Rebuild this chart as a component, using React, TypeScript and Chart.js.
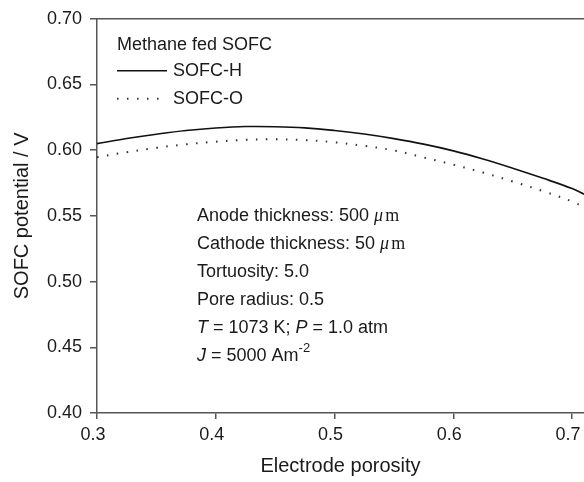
import React, { useEffect, useRef } from "react";
import { Chart, registerables } from "chart.js";

Chart.register(...registerables);

// ---- data ----
const porosity = [0.3, 0.325, 0.35, 0.375, 0.4, 0.425, 0.45, 0.475, 0.5, 0.525, 0.55, 0.575, 0.6, 0.625, 0.65, 0.675, 0.7, 0.71];
const sofcH = [0.605, 0.6089, 0.6122, 0.615, 0.6169, 0.618, 0.6179, 0.617, 0.615, 0.6123, 0.6088, 0.6046, 0.5995, 0.5933, 0.5863, 0.5788, 0.5708, 0.5665];
const sofcO = [0.5947, 0.5985, 0.6018, 0.6045, 0.6065, 0.6079, 0.6083, 0.6077, 0.606, 0.6033, 0.5998, 0.5945, 0.589, 0.583, 0.5762, 0.569, 0.561, 0.5565];
const xTicks = [0.3, 0.4, 0.5, 0.6, 0.7];
const yTicks = [0.4, 0.45, 0.5, 0.55, 0.6, 0.65, 0.7];
const seriesLabels = ["SOFC-H", "SOFC-O"];
const legendTitle = "Methane fed SOFC";

const SANS = 'Arial, "Liberation Sans", sans-serif';
const SERIF = '"Times New Roman", "Liberation Serif", serif';
const TEXT = "#1a1a1a";
const AXIS = "#555555";

type Seg = { t: string; font: string; dy?: number; gap?: number };
const F = `18px ${SANS}`;
const FI = `italic 18px ${SANS}`;
const MU = `italic 18px ${SERIF}`;
const M = `18px ${SERIF}`;
const annotations: Seg[][] = [
  [{ t: "Anode thickness: 500 ", font: F }, { t: "\u03bc", font: MU, gap: 2 }, { t: "m", font: M }],
  [{ t: "Cathode thickness: 50 ", font: F }, { t: "\u03bc", font: MU, gap: 2 }, { t: "m", font: M }],
  [{ t: "Tortuosity: 5.0", font: F }],
  [{ t: "Pore radius: 0.5", font: F }],
  [{ t: "T", font: FI }, { t: " = 1073 K; ", font: F }, { t: "P", font: FI }, { t: " = 1.0 atm", font: F }],
  [{ t: "J", font: FI }, { t: " = 5000 Am", font: F }, { t: "-2", font: `13px ${SANS}`, dy: -7 }],
];

function drawRich(ctx: CanvasRenderingContext2D, x: number, y: number, segs: Seg[]) {
  let cx = x;
  for (const s of segs) {
    ctx.font = s.font;
    ctx.fillText(s.t, cx, y + (s.dy || 0));
    cx += ctx.measureText(s.t).width + (s.gap || 0);
  }
}

const decor = {
  id: "decor",
  afterDraw(chart: any) {
    const ctx: CanvasRenderingContext2D = chart.ctx;
    const a = chart.chartArea;
    ctx.save();
    // top frame line
    ctx.strokeStyle = AXIS;
    ctx.lineWidth = 1.5;
    ctx.beginPath();
    ctx.moveTo(a.left, a.top);
    ctx.lineTo(a.right, a.top);
    ctx.stroke();

    // legend
    ctx.fillStyle = TEXT;
    ctx.textBaseline = "middle";
    ctx.textAlign = "left";
    ctx.font = `18px ${SANS}`;
    const lx = a.left + 20;
    ctx.fillText(legendTitle, lx, a.top + 26);
    chart.data.datasets.forEach((ds: any, i: number) => {
      const y = a.top + 52 + i * 28;
      ctx.save();
      ctx.strokeStyle = ds.borderColor;
      ctx.lineWidth = ds.borderWidth;
      ctx.setLineDash(ds.borderDash || []);
      ctx.lineCap = ds.borderCapStyle || "butt";
      ctx.beginPath();
      ctx.moveTo(lx, y);
      ctx.lineTo(lx + 50, y);
      ctx.stroke();
      ctx.restore();
      ctx.fillStyle = TEXT;
      ctx.font = `18px ${SANS}`;
      ctx.fillText(ds.label, lx + 56, y);
    });

    // annotation block
    annotations.forEach((segs, i) => {
      drawRich(ctx, a.left + 100, a.top + 197 + i * 28, segs);
    });
    ctx.restore();
  },
};

export default function App() {
  const ref = useRef<HTMLCanvasElement | null>(null);
  useEffect(() => {
    if (!ref.current) return;
    const chart = new Chart(ref.current, {
      type: "line",
      data: {
        datasets: [
          {
            label: seriesLabels[0],
            data: porosity.map((x, i) => ({ x, y: sofcH[i] })),
            borderColor: "#111111",
            borderWidth: 1.6,
            pointRadius: 0,
            tension: 0.4,
            fill: false,
          },
          {
            label: seriesLabels[1],
            data: porosity.map((x, i) => ({ x, y: sofcO[i] })),
            borderColor: "#333333",
            borderWidth: 2,
            borderDash: [1.5, 8.5],
            pointRadius: 0,
            tension: 0.4,
            fill: false,
          },
        ],
      },
      plugins: [decor],
      options: {
        animation: false,
        responsive: false,
        devicePixelRatio: 1,
        layout: { padding: { top: 16, right: 0, left: 0, bottom: 0 } },
        plugins: { legend: { display: false }, tooltip: { enabled: false } },
        scales: {
          x: {
            type: "linear",
            min: 0.3,
            max: 0.71,
            afterBuildTicks: (s: any) => {
              s.ticks = xTicks.map((v) => ({ value: v }));
            },
            afterFit: (s: any) => {
              s.height = 69;
              s.paddingRight = 0;
            },
            ticks: {
              font: { family: SANS, size: 18 },
              color: TEXT,
              padding: 5,
              labelOffset: -4,
              maxRotation: 0,
              autoSkip: false,
              callback: (v: any) => Number(v).toFixed(1),
            },
            grid: { drawOnChartArea: false, drawTicks: true, tickLength: 6, color: AXIS, lineWidth: 1.5 },
            border: { display: true, color: AXIS, width: 1.5 },
            title: {
              display: true,
              text: "Electrode porosity",
              font: { family: SANS, size: 20 },
              color: TEXT,
              padding: { top: 0, bottom: 4 },
            },
          },
          y: {
            type: "linear",
            min: 0.4,
            max: 0.7,
            afterBuildTicks: (s: any) => {
              s.ticks = yTicks.map((v) => ({ value: v }));
            },
            afterFit: (s: any) => {
              s.width = 97;
            },
            ticks: {
              font: { family: SANS, size: 18 },
              color: TEXT,
              padding: 8,
              autoSkip: false,
              callback: (v: any) => Number(v).toFixed(2),
            },
            grid: { drawOnChartArea: false, drawTicks: true, tickLength: 7, color: AXIS, lineWidth: 1.5 },
            border: { display: true, color: AXIS, width: 1.5 },
            title: {
              display: true,
              text: "SOFC potential / V",
              font: { family: SANS, size: 20 },
              color: TEXT,
              padding: { top: 10, bottom: 0 },
            },
          },
        },
      },
    } as any);
    return () => chart.destroy();
  }, []);
  return (
    <div style={{ position: "fixed", left: 0, top: 0, width: 584, height: 482, background: "#fff" }}>
      <canvas ref={ref} width={584} height={482} style={{ width: 584, height: 482, display: "block" }} />
    </div>
  );
}
